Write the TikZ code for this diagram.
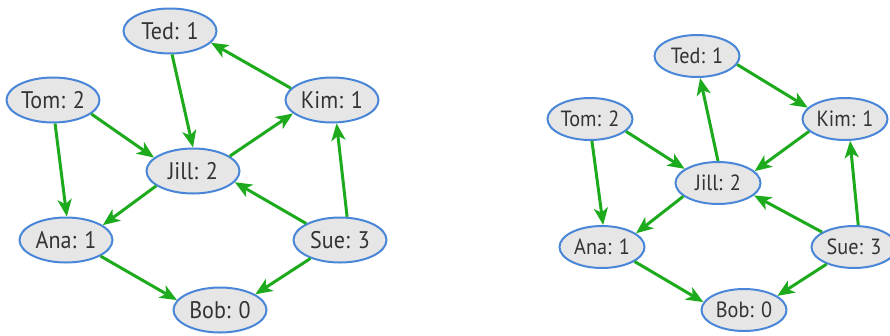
\documentclass[tikz,border=0pt]{standalone}
\usepackage{fontspec}
\setmainfont{PT Sans}[FakeStretch=0.92]
\usetikzlibrary{shapes.geometric,arrows.meta}
\definecolor{nodefill}{HTML}{E6E6E6}
\definecolor{nodeline}{HTML}{4A86D8}
\definecolor{edgegreen}{HTML}{1DAA1D}
\definecolor{labeltext}{HTML}{333333}
\tikzset{
  person/.style={ellipse, draw=nodeline, line width=2pt, fill=nodefill,
    text=labeltext, inner sep=0pt, minimum width=93pt, minimum height=45pt,
    font=\fontsize{24}{26}\selectfont},
  smallperson/.style={person, minimum width=85pt, minimum height=42pt,
    font=\fontsize{22}{24}\selectfont},
  link/.style={draw=edgegreen, line width=3pt,
    -{Stealth[length=17pt, width=14pt, inset=4.5pt]}},
}
\begin{document}
\begin{tikzpicture}[x=1pt, y=-1pt]
\useasboundingbox (0,0) rectangle (890,335);

% left graph
\node[person] (lTed) at (170,31) {Ted: 1};
\node[person] (lTom) at (53,100) {Tom: 2};
\node[person] (lKim) at (332,100) {Kim: 1};
\node[person] (lJill) at (193,171) {Jill: 2};
\node[person] (lAna) at (66,240) {Ana: 1};
\node[person] (lSue) at (340,240) {Sue: 3};
\node[person] (lBob) at (220,310) {Bob: 0};

\draw[link] (lKim.164) -- (lTed.-16);
\draw[link] (lTed.-85) -- (lJill.90);
\draw[link] (lTom.-20) -- (lJill.161);
\draw[link] (lTom.-85) -- (lAna.88);
\draw[link] (lJill.22) -- (lKim.-161);
\draw[link] (lJill.-158) -- (lAna.22);
\draw[link] (lSue.154) -- (lJill.-15);
\draw[link] (lSue.73) -- (lKim.-79);
\draw[link] (lSue.-148) -- (lBob.24);
\draw[link] (lAna.-25) -- (lBob.167);

% right graph
\node[smallperson] (rTed) at (697,56) {Ted: 1};
\node[smallperson] (rTom) at (590,119) {Tom: 2};
\node[smallperson] (rKim) at (845,119) {Kim: 1};
\node[smallperson] (rJill) at (718,183) {Jill: 2};
\node[smallperson] (rAna) at (602,247) {Ana: 1};
\node[smallperson] (rSue) at (854,247) {Sue: 3};
\node[smallperson] (rBob) at (744,310) {Bob: 0};

\draw[link] (rTed.-12) -- (rKim.163);
\draw[link] (rJill.90) -- (rTed.-82);
\draw[link] (rKim.-161) -- (rJill.18);
\draw[link] (rTom.-19) -- (rJill.157);
\draw[link] (rTom.-85) -- (rAna.87);
\draw[link] (rJill.-159) -- (rAna.22);
\draw[link] (rSue.155) -- (rJill.-19);
\draw[link] (rSue.79) -- (rKim.-77);
\draw[link] (rSue.-148) -- (rBob.23);
\draw[link] (rAna.-24) -- (rBob.169);
\end{tikzpicture}
\end{document}
